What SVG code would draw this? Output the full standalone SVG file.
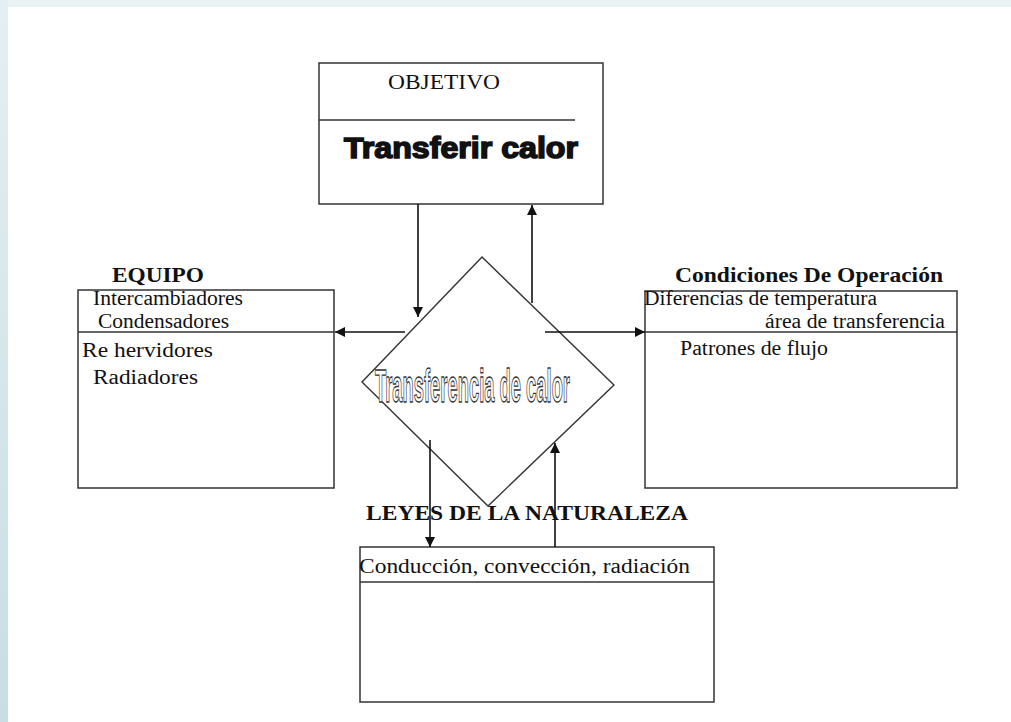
<svg xmlns="http://www.w3.org/2000/svg" width="1011" height="722" viewBox="0 0 1011 722">
<defs>
<linearGradient id="side" x1="0" y1="0" x2="0" y2="1">
<stop offset="0" stop-color="#e4eff3"/>
<stop offset="1" stop-color="#c7dee5"/>
</linearGradient>
<marker id="ah" viewBox="0 0 10 10" refX="10" refY="5" markerWidth="11" markerHeight="10" markerUnits="userSpaceOnUse" orient="auto">
<path d="M0,0 L10,5 L0,10 z" fill="#111"/>
</marker>
</defs>
<style>
.box{fill:#fff;stroke:#333;stroke-width:1.5}
.div{stroke:#333;stroke-width:1.5;fill:none}
.t{font-family:"Liberation Serif","Times New Roman",serif;font-size:20.5px;fill:#111}
.b{font-family:"Liberation Serif","Times New Roman",serif;font-size:21px;font-weight:bold;fill:#111}
.c{stroke:#111;stroke-width:1.6;fill:none;marker-end:url(#ah)}
</style>
<rect x="0" y="0" width="1011" height="722" fill="#fff"/>
<rect x="0" y="0" width="1011" height="7" fill="#e9f2f5"/>
<rect x="0" y="0" width="8" height="722" fill="url(#side)"/>

<g id="objetivo">
<rect class="box" x="319" y="63" width="284" height="141"/>
<line class="div" x1="319" y1="120" x2="575" y2="120"/>
<text class="t" x="388" y="89" textLength="112" lengthAdjust="spacingAndGlyphs">OBJETIVO</text>
<text x="344" y="158" font-family="'Liberation Sans',Arial,sans-serif" font-size="30" font-weight="900" fill="#111" stroke="#111" stroke-width="1.6" textLength="234" lengthAdjust="spacingAndGlyphs">Transferir calor</text>
</g>

<g id="equipo">
<rect class="box" x="78" y="290" width="256" height="198"/>
<line class="div" x1="78" y1="332" x2="334" y2="332"/>
<text class="b" x="112" y="282" textLength="92" lengthAdjust="spacingAndGlyphs">EQUIPO</text>
<text class="t" x="93" y="305" textLength="150" lengthAdjust="spacingAndGlyphs">Intercambiadores</text>
<text class="t" x="98" y="328" textLength="131" lengthAdjust="spacingAndGlyphs">Condensadores</text>
<text class="t" x="82" y="357" textLength="131" lengthAdjust="spacingAndGlyphs">Re hervidores</text>
<text class="t" x="93" y="384" textLength="105" lengthAdjust="spacingAndGlyphs">Radiadores</text>
</g>

<g id="condiciones">
<rect class="box" x="645" y="291" width="312" height="197"/>
<line class="div" x1="645" y1="332" x2="957" y2="332"/>
<text class="b" x="675" y="282" textLength="268" lengthAdjust="spacingAndGlyphs">Condiciones De Operación</text>
<text class="t" x="644" y="305" textLength="233" lengthAdjust="spacingAndGlyphs">Diferencias de temperatura</text>
<text class="t" x="765" y="328" textLength="180" lengthAdjust="spacingAndGlyphs">área de transferencia</text>
<text class="t" x="680" y="355" font-size="22" textLength="148" lengthAdjust="spacingAndGlyphs">Patrones de flujo</text>
</g>

<g id="transferencia">
<polygon points="482,257 614,385 488,506 362,382" fill="none" stroke="#333" stroke-width="1.4"/>
<text x="375" y="402" font-family="'Liberation Sans',Arial,sans-serif" font-size="46" font-weight="bold" fill="#fff" stroke="#333" stroke-width="1.4" textLength="195" lengthAdjust="spacingAndGlyphs">Transferencia de calor</text>
</g>

<g id="leyes">
<rect class="box" x="360" y="547" width="354" height="155"/>
<line class="div" x1="360" y1="582" x2="714" y2="582"/>
<text class="t" x="359" y="573" textLength="331" lengthAdjust="spacingAndGlyphs">Conducción, convección, radiación</text>
</g>

<g id="connectors">
<line class="c" x1="418" y1="204" x2="418" y2="317"/>
<line class="c" x1="532" y1="303" x2="532" y2="205"/>
<line class="c" x1="405" y1="332" x2="335" y2="332"/>
<line class="c" x1="545" y1="332" x2="645" y2="332"/>
<line class="c" x1="430" y1="440" x2="430" y2="547"/>
<line class="c" x1="555" y1="547" x2="555" y2="443"/>
</g>
<text class="b" x="366" y="520" textLength="322" lengthAdjust="spacingAndGlyphs">LEYES DE LA NATURALEZA</text>
</svg>
